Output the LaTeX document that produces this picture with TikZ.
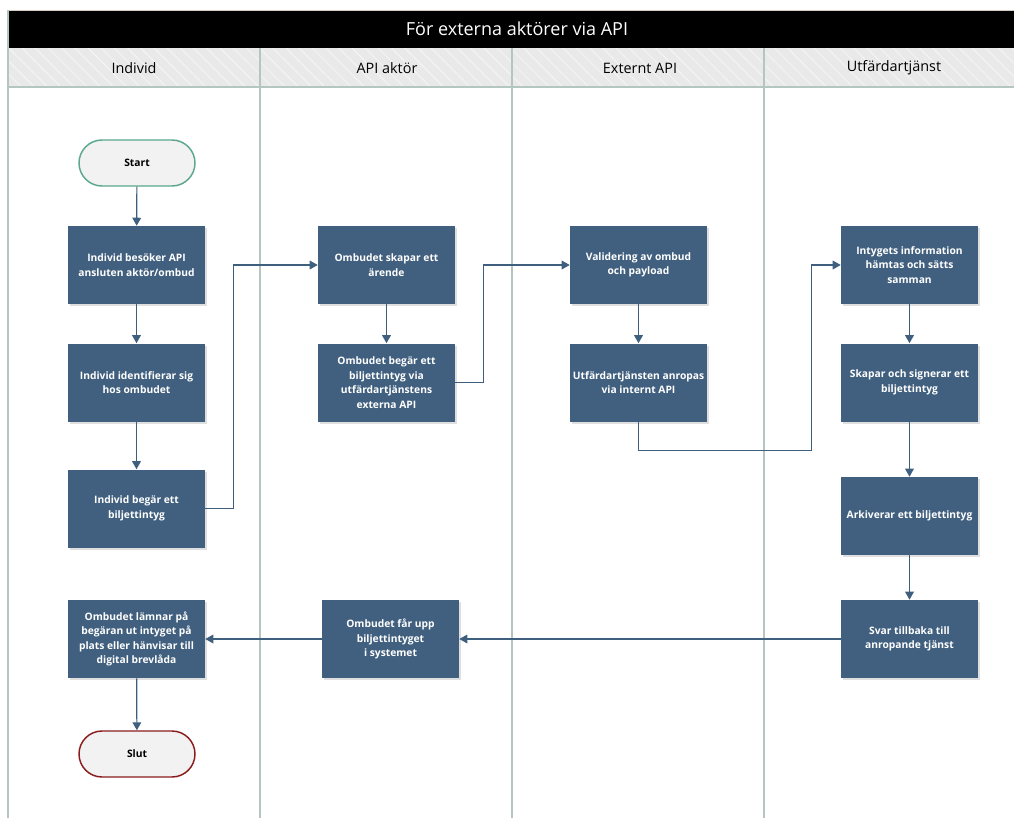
\documentclass[tikz,border=0pt]{standalone}
\usepackage{fontspec}
\setmainfont{Open Sans}
\usetikzlibrary{arrows.meta,shadows,patterns.meta}

\definecolor{boxblue}{HTML}{41607F}
\definecolor{linkblue}{HTML}{3E5F7E}
\definecolor{lanegrid}{HTML}{B3C6BF}
\definecolor{headfill}{HTML}{E9E9E9}
\definecolor{hatch}{HTML}{F6F6F6}
\definecolor{startedge}{HTML}{5BA88C}
\definecolor{endedge}{HTML}{8A1C1C}
\definecolor{pillfill}{HTML}{F2F2F2}

\tikzset{
  stepbox/.style={rectangle, fill=boxblue, text=white,
    font=\bfseries\fontsize{7.7}{10.9}\selectfont, align=center,
    minimum width=102.75pt, minimum height=58.5pt, inner sep=2pt,
    drop shadow={opacity=0.25, shadow xshift=1.5pt, shadow yshift=-1.5pt}},
  terminal/.style={rectangle, rounded corners=17.25pt, fill=pillfill,
    line width=1.1pt, font=\bfseries\fontsize{7.7}{9}\selectfont,
    minimum width=87pt, minimum height=34.5pt},
  flow/.style={draw=linkblue, line width=0.9pt,
    -{Triangle[length=6pt,width=6.5pt]}},
  lanelabel/.style={font=\fontsize{10.8}{12}\selectfont},
}

\begin{document}
\begin{tikzpicture}[x=0.75pt,y=-0.75pt]
\useasboundingbox (0,0) rectangle (1014,818);

% title bar
\fill[black] (8,10) rectangle (1014,48);
\draw[draw=gray!60!brown!40, line width=0.6pt] (8,10) -- (1014,10);
\node[text=white, font=\fontsize{13.5}{16}\selectfont] (title) at (517,29) {För externa aktörer via API};

% lane header band
\fill[headfill] (8,48) rectangle (1014,87);
\fill[pattern={Lines[angle=-45, distance=7pt, line width=0.6pt]}, pattern color=hatch] (8,48) rectangle (1014,87);
\draw[lanegrid, line width=0.9pt] (8,87) -- (1014,87);

% lane borders
\foreach \lx in {8,260,512,764}
  \draw[lanegrid, line width=0.9pt] (\lx,48) -- (\lx,818);
\draw[lanegrid, line width=0.9pt] (8,10) -- (8,48);

\node[lanelabel] (l1) at (134,68) {Individ};
\node[lanelabel] (l2) at (387,68) {API aktör};
\node[lanelabel] (l3) at (640,68) {Externt API};
\node[lanelabel] (l4) at (894,68) {Utfärdartjänst};

% Individ lane
\node[terminal, draw=startedge] (start) at (137,163) {Start};
\node[stepbox] (b1) at (136.5,265) {Individ besöker API\\ansluten aktör/ombud};
\node[stepbox] (b2) at (136.5,382.5) {Individ identifierar sig\\hos ombudet};
\node[stepbox] (b3) at (136.5,508.5) {Individ begär ett\\biljettintyg};
\node[stepbox] (b4) at (136.5,639) {Ombudet lämnar på\\begäran ut intyget på\\plats eller hänvisar till\\digital brevlåda};
\node[terminal, draw=endedge] (slut) at (137,754) {Slut};

% API aktör lane
\node[stepbox] (a1) at (386.5,265) {Ombudet skapar ett\\ärende};
\node[stepbox] (a2) at (386.5,382.5) {Ombudet begär ett\\biljettintyg via\\utfärdartjänstens\\externa API};
\node[stepbox] (a3) at (390.5,639) {Ombudet får upp\\biljettintyget\\i systemet};

% Externt API lane
\node[stepbox] (e1) at (638.5,265) {Validering av ombud\\och payload};
\node[stepbox] (e2) at (638.5,382.5) {Utfärdartjänsten anropas\\via internt API};

% Utfärdartjänst lane
\node[stepbox] (u1) at (909.5,265) {Intygets information\\hämtas och sätts\\samman};
\node[stepbox] (u2) at (909.5,382.5) {Skapar och signerar ett\\biljettintyg};
\node[stepbox] (u3) at (909.5,516) {Arkiverar ett biljettintyg};
\node[stepbox] (u4) at (909.5,639) {Svar tillbaka till\\anropande tjänst};

% connectors
\draw[flow] (start) -- (b1);
\draw[flow] (b1) -- (b2);
\draw[flow] (b2) -- (b3);
\draw[flow] (b3.east) -- ++(28,0) |- (a1.west);
\draw[flow] (a1) -- (a2);
\draw[flow] (a2.east) -- ++(28,0) |- (e1.west);
\draw[flow] (e1) -- (e2);
\draw[flow] (e2.south) -- ++(0,29) -| ([xshift=-21.75pt]u1.west) -- (u1.west);
\draw[flow] (u1) -- (u2);
\draw[flow] (u2) -- (u3);
\draw[flow] (u3) -- (u4);
\draw[flow] (u4) -- (a3);
\draw[flow] (a3) -- (b4);
\draw[flow] (b4) -- (slut);
\end{tikzpicture}
\end{document}
